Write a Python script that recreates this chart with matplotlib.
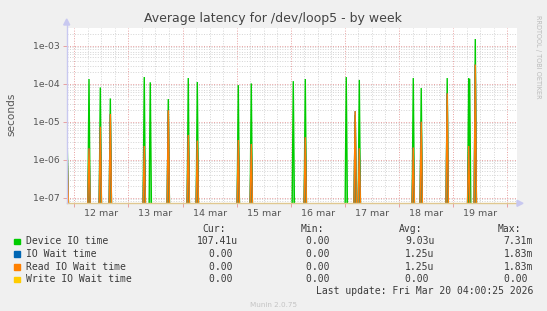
import matplotlib
matplotlib.use("Agg")
import matplotlib.pyplot as plt
from matplotlib.ticker import FixedLocator, LogLocator, NullFormatter, FixedFormatter

# ---------------- data ----------------
# time in days since 12 mar 00:00
day_labels = ["12 mar", "13 mar", "14 mar", "15 mar", "16 mar", "17 mar", "18 mar", "19 mar"]
y_labels = ["1e-07", "1e-06", "1e-05", "1e-04", "1e-03"]

device_t = [-0.129, 0.272, 0.481, 0.666, 1.293, 1.404, 1.737, 2.106, 2.273, 3.030, 3.270,
            4.046, 4.268, 5.025, 5.190, 5.266, 6.263, 6.410, 6.890, 7.287, 7.305, 7.409]
device_v = [2.0e-6, 1.33e-4, 8.0e-5, 4.1e-5, 1.5e-4, 1.09e-4, 3.95e-5, 1.41e-4, 1.11e-4, 9.2e-5, 1.02e-4,
            1.17e-4, 1.33e-4, 1.5e-4, 1.5e-5, 1.26e-4, 1.41e-4, 7.7e-5, 1.41e-4, 1.41e-4, 1.35e-4, 1.5e-3]

read_t = [-0.129, 0.272, 0.481, 0.666, 1.293, 1.737, 2.106, 2.273, 3.030, 3.270,
          4.268, 5.190, 5.266, 6.263, 6.410, 6.890, 7.287, 7.409]
read_v = [1.1e-6, 2.0e-6, 7.4e-6, 1.6e-5, 2.3e-6, 2.0e-5, 4.5e-6, 3.2e-6, 3.3e-6, 2.6e-6,
          3.9e-6, 1.9e-5, 2.0e-6, 2.1e-6, 1.0e-5, 5.6e-5, 2.3e-6, 3.2e-4]

iowait_t = read_t
iowait_v = read_v

series_names = ["Device IO time", "IO Wait time", "Read IO Wait time", "Write IO Wait time"]
series_colors = ["#00cc00", "#0066b3", "#ff8000", "#ffcc00"]
cur_vals = ["107.41u", "0.00", "0.00", "0.00"]
min_vals = ["0.00", "0.00", "0.00", "0.00"]
avg_vals = ["9.03u", "1.25u", "1.25u", "0.00"]
max_vals = ["7.31m", "1.83m", "1.83m", "0.00"]

# ---------------- figure ----------------
W, H = 547, 311
fig = plt.figure(figsize=(W / 100, H / 100), dpi=100, facecolor="#f0f0f0")

left, right, top, bottom = 66.7, 516.7, 27.7, 203.3
ax = fig.add_axes([left / W, 1 - bottom / H, (right - left) / W, (bottom - top) / H])
ax.set_facecolor("white")
ax.set_yscale("log")
YMIN, YMAX = 7.13e-8, 2.98e-3
XMIN, XMAX = -0.140, 8.174
ax.set_ylim(YMIN, YMAX)
ax.set_xlim(XMIN, XMAX)

for s in ax.spines.values():
    s.set_visible(False)

# grids
ax.xaxis.set_major_locator(FixedLocator(range(0, 9)))
ax.xaxis.set_minor_locator(FixedLocator([d / 4 for d in range(0, 33) if d % 4 != 0]))
ax.yaxis.set_minor_locator(LogLocator(base=10, subs=range(2, 10), numticks=20))
ax.yaxis.set_minor_formatter(NullFormatter())
ax.yaxis.set_major_locator(FixedLocator([1e-7, 1e-6, 1e-5, 1e-4, 1e-3]))
ax.yaxis.set_major_formatter(FixedFormatter(y_labels))
ax.xaxis.set_major_formatter(NullFormatter())
ax.xaxis.set_minor_formatter(NullFormatter())

ax.grid(which="minor", color="#d4d4d4", linestyle=(0, (1, 1.6)), linewidth=0.7)
ax.grid(which="major", color="#e8a0a0", linestyle=(0, (1, 1.6)), linewidth=0.7)
ax.set_axisbelow(True)

ax.tick_params(which="major", length=3, width=0.7, color="#e8a0a0", labelsize=6.7,
               labelcolor="#555555", pad=2)
ax.tick_params(which="minor", length=0)

for i, lab in enumerate(day_labels):
    ax.text(i + 0.5, -0.035, lab, transform=ax.get_xaxis_transform(), ha="center", va="top",
            fontsize=6.8, color="#555555")

STEP = 1 / 48


def draw_spikes(ts, vs, color, fill_alpha, lw):
    for t, v in zip(ts, vs):
        xs = [t - STEP, t, t + STEP]
        ys = [YMIN, v, YMIN]
        ax.fill(xs, ys, color=color, alpha=fill_alpha, linewidth=0, zorder=3)
        ax.plot(xs, ys, color=color, linewidth=lw, zorder=4, solid_joinstyle="miter")


draw_spikes(device_t, device_v, series_colors[0], 0.45, 1.0)
draw_spikes(iowait_t, iowait_v, series_colors[1], 0.45, 1.0)
draw_spikes(read_t, read_v, series_colors[2], 0.45, 1.0)

# axes lines with arrows (munin style)
ax.plot([XMIN, XMAX], [YMIN, YMIN], color="#e0c890", linewidth=1.0, zorder=5, clip_on=False)
fig.add_artist(plt.Line2D([left / W, left / W], [1 - bottom / H, 1 - 22 / H],
                          color="#c8c8f0", linewidth=1.0))
fig.add_artist(plt.Polygon([[(left - 3) / W, 1 - 25 / H], [(left + 3) / W, 1 - 25 / H],
                            [left / W, 1 - 19 / H]], closed=True, color="#c8c8f0"))
fig.add_artist(plt.Polygon([[517 / W, 1 - (bottom - 3) / H], [517 / W, 1 - (bottom + 3) / H],
                            [523 / W, 1 - bottom / H]], closed=True, color="#c8c8f0"))

# texts
fig.text(273 / W, 1 - 18.5 / H, "Average latency for /dev/loop5 - by week", ha="center", va="center",
         fontsize=9.0, color="#444444")
fig.text(11 / W, 1 - 114 / H, "seconds", rotation=90, ha="center", va="center",
         fontsize=7.6, color="#555555")
fig.text(538 / W, 1 - 57 / H, "RRDTOOL / TOBI OETIKER", rotation=270, ha="center", va="center",
         fontsize=4.7, color="#bbbbbb")

mono = "DejaVu Sans Mono"
CW = 5.86
tc = "#3a3a3a"
hdr_y = 229.5
for edge, h in zip([238, 335.5, 434.4, 533], ["Cur:", "Min:", "Avg:", "Max:"]):
    fig.text((edge - 2 * CW) / W, 1 - hdr_y / H, h, ha="right", va="center", fontsize=7.0,
             family=mono, color=tc)

row_y = [241.5, 254.2, 266.8, 279.4]
for i in range(4):
    y = 1 - row_y[i] / H
    fig.patches.append(plt.Rectangle(((14.0) / W, 1 - (row_y[i] + 2.8) / H), 5.6 / W, 5.6 / H,
                                     transform=fig.transFigure, color=series_colors[i]))
    fig.text(26.2 / W, y, series_names[i], ha="left", va="center", fontsize=7.0, family=mono, color=tc)
    for edge, vals in zip([238, 335.5, 434.4, 533], [cur_vals, min_vals, avg_vals, max_vals]):
        fig.text(edge / W, y, vals[i] if vals[i][-1] in "umk" else vals[i] + " ", ha="right",
                 va="center", fontsize=7.0, family=mono, color=tc)

fig.text(533 / W, 1 - 291.5 / H, "Last update: Fri Mar 20 04:00:25 2026", ha="right", va="center",
         fontsize=7.0, family=mono, color=tc)
fig.text(274 / W, 1 - 305 / H, "Munin 2.0.75", ha="center", va="center", fontsize=5.2, color="#c4c4c4")

fig.savefig("out.png", dpi=100, facecolor=fig.get_facecolor())
